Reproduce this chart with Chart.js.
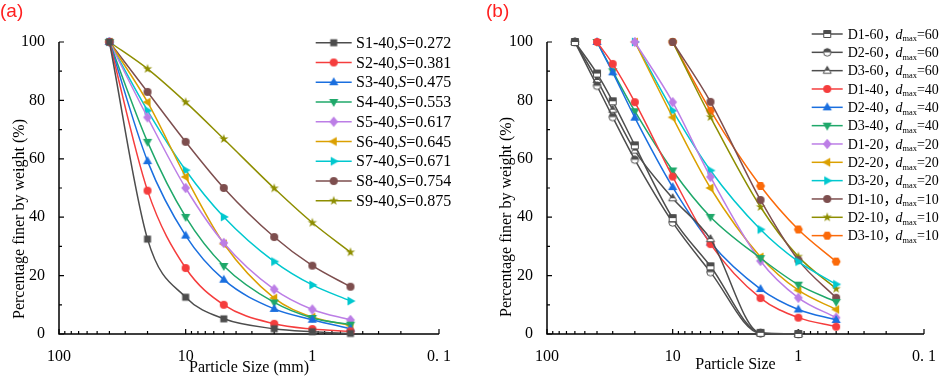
<!DOCTYPE html>
<html>
<head>
<meta charset="utf-8">
<script src="https://cdn.jsdelivr.net/npm/chart.js@4.4.1/dist/chart.umd.min.js"></script>
<style>
html, body { margin: 0; padding: 0; background: #fff; }
#wrap { position: relative; width: 941px; height: 380px; overflow: hidden; }
#boxA { position: absolute; left: 0; top: 0; width: 470px; height: 380px; }
#boxB { position: absolute; left: 470px; top: 0; width: 471px; height: 380px; }
.tag { position: absolute; top: -1px; font: 19px 'Liberation Sans', Arial, sans-serif; line-height: 24px; color: #ff1f1f; }
</style>
</head>
<body>
<div id="wrap">
  <div id="boxA"><canvas id="chartA" width="470" height="380"></canvas></div>
  <div id="boxB"><canvas id="chartB" width="471" height="380"></canvas></div>
  <div class="tag" style="left:0px">(a)</div>
  <div class="tag" style="left:486px">(b)</div>
</div>
<script>
// ---- data, panel (a) ----
const xA = [40, 20, 10, 5, 2, 1, 0.5];
const s1 = [100, 32.5, 12.6, 5.2, 1.8, 0.8, 0.2];
const s2 = [100, 49.1, 22.6, 10.0, 3.5, 1.7, 0.9];
const s3 = [100, 59.2, 33.7, 18.6, 8.6, 4.9, 1.8];
const s4 = [100, 65.8, 40.1, 23.3, 10.8, 5.5, 3.2];
const s5 = [100, 74.2, 50.0, 31.2, 15.3, 8.4, 4.8];
const s6 = [100, 79.4, 53.8, 30.9, 12.3, 5.8, 2.9];
const s7 = [100, 76.5, 56.1, 40.1, 24.8, 16.8, 11.3];
const s8 = [100, 82.9, 65.8, 50.0, 33.2, 23.4, 16.2];
const s9 = [100, 90.8, 79.4, 66.8, 49.9, 38.1, 28.0];
const namesA = ['S1-40', 'S2-40', 'S3-40', 'S4-40', 'S5-40', 'S6-40', 'S7-40', 'S8-40', 'S9-40'];
const sValues = ['0.272', '0.381', '0.475', '0.553', '0.617', '0.645', '0.671', '0.754', '0.875'];

// ---- data, panel (b) ----
const x60 = [60, 40, 30, 20, 10, 5, 2, 1];
const d1_60 = [100, 89.2, 79.7, 64.6, 39.7, 23.2, 0.4, 0];
const d2_60 = [100, 85.0, 74.3, 59.7, 38.2, 21.2, 0.2, 0];
const d3_60 = [100, 87.0, 76.8, 62.8, 46.5, 32.5, 0.3, 0];
const x40 = [40, 30, 20, 10, 5, 2, 1, 0.5];
const d1_40 = [100, 92.5, 79.4, 53.9, 30.8, 12.3, 5.6, 2.5];
const d2_40 = [100, 89.6, 74.1, 50.3, 31.3, 15.4, 8.4, 4.8];
const d3_40 = [100, 90.0, 76.3, 56.0, 40.1, 26.0, 16.9, 11.0];
const x20 = [20, 10, 5, 2, 1, 0.5];
const d1_20 = [100, 79.4, 53.8, 25.0, 12.4, 5.6];
const d2_20 = [100, 74.2, 50.0, 26.4, 15.0, 8.4];
const d3_20 = [100, 76.5, 56.0, 35.8, 24.8, 17.0];
const x10 = [10, 5, 2, 1, 0.5];
const d1_10 = [100, 79.5, 45.9, 25.3, 12.4];
const d2_10 = [100, 74.3, 43.5, 26.5, 15.5];
const d3_10 = [100, 76.5, 50.7, 35.8, 24.8];
const namesB = ['D1-60', 'D2-60', 'D3-60', 'D1-40', 'D2-40', 'D3-40', 'D1-20', 'D2-20', 'D3-20', 'D1-10', 'D2-10', 'D3-10'];
const dmaxB = [60, 60, 60, 40, 40, 40, 20, 20, 20, 10, 10, 10];

// ---- axes ----
const xMajor = [100, 10, 1, 0.1];
const xTickLabels = ['100', '10', '1', '0. 1'];
const yMajor = [0, 20, 40, 60, 80, 100];
const yMinor = [10, 30, 50, 70, 90];
const yTitle = 'Percentage finer by weight (%)';

const SERIF = "'Liberation Serif', 'Times New Roman', 'Noto Sans CJK SC', serif";
const C = {
  gray: '#4d4d4d', red: '#f53d3d', blue: '#1a6fdf', green: '#1fa86a', purple: '#bc7ee6',
  gold: '#dba000', cyan: '#00c8cf', brown: '#7d4e4e', olive: '#8e8e00', orange: '#fb6a0a'
};

function poly(g, m, pts) {
  g.moveTo(m + pts[0][0], m + pts[0][1]);
  for (let i = 1; i < pts.length; i++) g.lineTo(m + pts[i][0], m + pts[i][1]);
}

function marker(shape, color, size, half) {
  const c = document.createElement('canvas');
  const n = Math.ceil(size * 1.7) + 2;
  c.width = n; c.height = n;
  const g = c.getContext('2d');
  const m = n / 2, r = size / 2;
  const up = [[0, -1.25 * r], [1.15 * r, 0.75 * r], [-1.15 * r, 0.75 * r]];
  g.beginPath();
  if (shape === 'square') g.rect(m - r, m - r, 2 * r, 2 * r);
  else if (shape === 'circle') g.arc(m, m, r, 0, Math.PI * 2);
  else if (shape === 'diamond') poly(g, m, [[0, -1.3 * r], [1.1 * r, 0], [0, 1.3 * r], [-1.1 * r, 0]]);
  else if (shape === 'up') poly(g, m, up);
  else if (shape === 'down') poly(g, m, up.map(p => [p[0], -p[1]]));
  else if (shape === 'left') poly(g, m, up.map(p => [p[1], -p[0]]));
  else if (shape === 'right') poly(g, m, up.map(p => [-p[1], p[0]]));
  else if (shape === 'star') {
    const pts = [];
    for (let i = 0; i < 10; i++) {
      const a = -Math.PI / 2 + i * Math.PI / 5;
      const rr = i % 2 ? r * 0.55 : r * 1.4;
      pts.push([rr * Math.cos(a), rr * Math.sin(a)]);
    }
    poly(g, m, pts);
  } else if (shape === 'hex') {
    const pts = [];
    for (let i = 0; i < 6; i++) {
      const a = i * Math.PI / 3;
      pts.push([r * 1.12 * Math.cos(a), r * 1.12 * Math.sin(a)]);
    }
    poly(g, m, pts);
  }
  g.closePath();
  if (half) {
    g.fillStyle = '#fff'; g.fill();
    g.save(); g.clip(); g.fillStyle = color; g.fillRect(0, 0, n, m); g.restore();
    g.strokeStyle = color; g.lineWidth = 1; g.stroke();
  } else {
    g.fillStyle = color; g.fill();
  }
  return c;
}

function series(xs, ys, color, shape, size, parts, half) {
  return {
    data: xs.map((x, i) => ({ x: x, y: ys[i] })),
    borderColor: color,
    backgroundColor: color,
    borderWidth: 1.5,
    pointStyle: marker(shape, color, size, half),
    cubicInterpolationMode: 'monotone',
    clip: false,
    legendParts: parts
  };
}

const partsA = i => [{ t: namesA[i] + ',' }, { t: 'S', it: true }, { t: '=' + sValues[i] }];
const partsB = i => [{ t: namesB[i] + '，', kern: -2 }, { t: 'd', it: true }, { t: 'max', sub: true }, { t: '=' + dmaxB[i] }];

const dsA = [
  series(xA, s1, C.gray, 'square', 7, partsA(0)),
  series(xA, s2, C.red, 'circle', 8, partsA(1)),
  series(xA, s3, C.blue, 'up', 8, partsA(2)),
  series(xA, s4, C.green, 'down', 8, partsA(3)),
  series(xA, s5, C.purple, 'diamond', 8, partsA(4)),
  series(xA, s6, C.gold, 'left', 8, partsA(5)),
  series(xA, s7, C.cyan, 'right', 8, partsA(6)),
  series(xA, s8, C.brown, 'circle', 8, partsA(7)),
  series(xA, s9, C.olive, 'star', 7, partsA(8))
];

const dsB = [
  series(x60, d1_60, C.gray, 'square', 7, partsB(0), true),
  series(x60, d2_60, C.gray, 'circle', 7.5, partsB(1), true),
  series(x60, d3_60, C.gray, 'up', 7, partsB(2), true),
  series(x40, d1_40, C.red, 'circle', 8, partsB(3)),
  series(x40, d2_40, C.blue, 'up', 8, partsB(4)),
  series(x40, d3_40, C.green, 'down', 8, partsB(5)),
  series(x20, d1_20, C.purple, 'diamond', 8, partsB(6)),
  series(x20, d2_20, C.gold, 'left', 8, partsB(7)),
  series(x20, d3_20, C.cyan, 'right', 8, partsB(8)),
  series(x10, d1_10, C.brown, 'circle', 8, partsB(9)),
  series(x10, d2_10, C.olive, 'star', 7, partsB(10)),
  series(x10, d3_10, C.orange, 'hex', 8, partsB(11))
];

function drawParts(ctx, parts, x, y, size) {
  for (const p of parts) {
    const fs = p.sub ? size * 0.6 : size;
    ctx.font = (p.it ? 'italic ' : '') + fs + 'px ' + SERIF;
    ctx.fillText(p.t, x, y + (p.sub ? size * 0.3 : 0));
    x += ctx.measureText(p.t).width + (p.kern || 0);
  }
}

const framePlugin = {
  id: 'frame',
  beforeDatasetsDraw(chart, args, o) {
    const { ctx, chartArea: { left, right, top, bottom }, scales: { x, y } } = chart;
    ctx.save();
    ctx.strokeStyle = '#000';
    ctx.lineWidth = 1.5;
    ctx.beginPath();
    ctx.moveTo(left, top);
    ctx.lineTo(left, bottom);
    ctx.lineTo(right, bottom);
    ctx.stroke();

    ctx.lineWidth = 1.2;
    ctx.beginPath();
    yMajor.forEach(v => { const p = y.getPixelForValue(v); ctx.moveTo(left, p); ctx.lineTo(left + 5, p); });
    yMinor.forEach(v => { const p = y.getPixelForValue(v); ctx.moveTo(left, p); ctx.lineTo(left + 3, p); });
    xMajor.forEach(v => { const p = x.getPixelForValue(v); ctx.moveTo(p, bottom); ctx.lineTo(p, bottom - 5); });
    for (const dec of [0.1, 1, 10]) {
      for (let k = 2; k <= 9; k++) {
        const p = x.getPixelForValue(k * dec);
        ctx.moveTo(p, bottom);
        ctx.lineTo(p, bottom - 3);
      }
    }
    ctx.stroke();

    ctx.translate(o.titleX, o.titleY);
    ctx.rotate(-Math.PI / 2);
    ctx.fillStyle = '#000';
    ctx.font = '16px ' + SERIF;
    ctx.textAlign = 'center';
    ctx.textBaseline = 'middle';
    ctx.fillText(yTitle, 0, 0);
    ctx.restore();
  },
  afterDatasetsDraw(chart, args, o) {
    const ctx = chart.ctx;
    const L = o.legend;
    ctx.save();
    chart.data.datasets.forEach((ds, i) => {
      const yy = L.y0 + i * L.dy;
      ctx.strokeStyle = ds.borderColor;
      ctx.lineWidth = 1.5;
      ctx.beginPath();
      ctx.moveTo(L.x1, yy);
      ctx.lineTo(L.x2, yy);
      ctx.stroke();
      const img = ds.pointStyle;
      ctx.drawImage(img, (L.x1 + L.x2) / 2 - img.width / 2, yy - img.height / 2);
      ctx.fillStyle = '#000';
      ctx.textAlign = 'left';
      ctx.textBaseline = 'middle';
      drawParts(ctx, ds.legendParts, L.tx, yy + 1, L.size);
    });
    ctx.restore();
  }
};

function makeChart(id, datasets, cfg) {
  return new Chart(document.getElementById(id), {
    type: 'line',
    data: { datasets: datasets },
    plugins: [framePlugin],
    options: {
      responsive: false,
      animation: false,
      devicePixelRatio: 1,
      events: [],
      layout: { padding: { left: 0, top: 42, right: cfg.padRight, bottom: 0 } },
      plugins: {
        legend: { display: false },
        tooltip: { enabled: false },
        frame: { titleX: cfg.titleX, titleY: cfg.titleY, legend: cfg.legend }
      },
      scales: {
        x: {
          type: 'logarithmic',
          reverse: true,
          min: 0.1,
          max: 100,
          grid: { display: false },
          border: { display: false },
          afterBuildTicks: s => { s.ticks = xMajor.map(v => ({ value: v, major: true })); },
          afterFit: s => { s.height = 46; },
          ticks: {
            autoSkip: false,
            maxRotation: 0,
            padding: 5,
            color: '#000',
            font: { family: SERIF, size: 16 },
            callback: v => xTickLabels[xMajor.indexOf(v)] ?? ''
          },
          title: {
            display: true,
            text: cfg.xTitle,
            color: '#000',
            font: { family: SERIF, size: 16 },
            padding: { top: 0, bottom: cfg.xTitlePad }
          }
        },
        y: {
          min: 0,
          max: 100,
          grid: { display: false },
          border: { display: false },
          afterFit: s => { s.width = cfg.yWidth; },
          ticks: {
            stepSize: 20,
            padding: 6,
            color: '#000',
            font: { family: SERIF, size: 16 }
          }
        }
      }
    }
  });
}

makeChart('chartA', dsA, {
  padRight: 31, yWidth: 59, titleX: 19.5, titleY: 219,
  xTitle: 'Particle Size (mm)', xTitlePad: 2.7,
  legend: { x1: 315.7, x2: 351.7, tx: 356, y0: 42.7, dy: 19.76, size: 16 }
});

makeChart('chartB', dsB, {
  padRight: 14, yWidth: 77, titleX: 36.7, titleY: 217,
  xTitle: 'Particle Size', xTitlePad: 5.4,
  legend: { x1: 341.7, x2: 372.7, tx: 377.7, y0: 34, dy: 18.33, size: 14 }
});
</script>
</body>
</html>
